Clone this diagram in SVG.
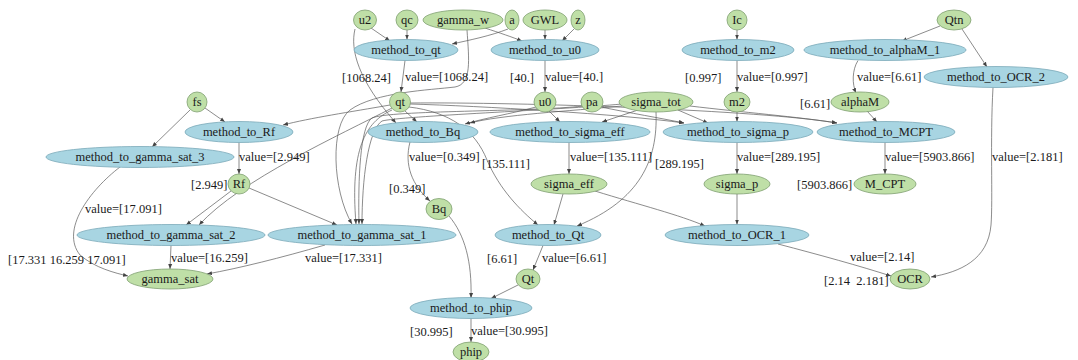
<svg xmlns="http://www.w3.org/2000/svg" width="1078" height="360" viewBox="0 0 1078 360">
<style>
text{font-family:"Liberation Serif","Times New Roman",serif;font-size:12.5px;fill:#1a1a1a}
.n text{text-anchor:middle}
.d ellipse{fill:#bfdfa7;stroke:#7f9f70;stroke-width:0.8}
.m ellipse{fill:#a8d5e2;stroke:#7ba9b9;stroke-width:0.8}
#edges path{fill:none;stroke:#5a5a5a;stroke-width:0.7;marker-end:url(#ah)}
</style>
<defs>
<marker id="ah" viewBox="0 0 10 10" refX="10" refY="5" markerWidth="5" markerHeight="5" markerUnits="userSpaceOnUse" orient="auto">
<path d="M0,1 L10,5 L0,9 z" fill="#444"/>
</marker>
</defs>
<rect width="1078" height="360" fill="#ffffff"/>
<g id="edges">
<path d="M371,28 L390,41"/>
<path d="M407,30 L407,39.5"/>
<path d="M508,29 C490,36 470,40 452,44"/>
<path d="M485,28 C500,33 512,37 522,41"/>
<path d="M545,30 L545,39.5"/>
<path d="M574,29 L562,41"/>
<path d="M405,60.5 L401,92"/>
<path d="M545,60.5 L545,92"/>
<path d="M355,29 C350,50 358,80 396,123"/>
<path d="M467,30 C469,60 472,84 455,87 C430,90 375,92 350,110 C330,125 332,190 352,224"/>
<path d="M405,111 L417,122"/>
<path d="M390,105 C350,112 310,118 283,125"/>
<path d="M392,108 C340,135 240,180 199,225"/>
<path d="M392,110 C365,122 350,150 356,224"/>
<path d="M583,106 C530,112 390,110 372,118 C360,126 358,180 359,224"/>
<path d="M622,104 C560,110 400,116 382,121 C368,130 362,180 362,224"/>
<path d="M536,107 C510,114 485,118 465,124"/>
<path d="M622,106 C570,111 500,115 470,123"/>
<path d="M549,111 L560,122"/>
<path d="M638,110 L602,122"/>
<path d="M409,107 C450,112 475,130 487,160 C500,190 520,210 538,225"/>
<path d="M563,194 L554,225"/>
<path d="M656,112 C658,160 640,200 577,226"/>
<path d="M569,142.5 L569,174"/>
<path d="M595,191 C640,205 680,215 705,226"/>
<path d="M601,107 C630,113 660,118 684,123"/>
<path d="M678,110 L708,123"/>
<path d="M737,112 L737,121.5"/>
<path d="M410,104 C480,106 620,114 684,123"/>
<path d="M410,103 C520,102 760,110 837,123"/>
<path d="M690,106 C740,112 800,117 837,123"/>
<path d="M867,111 L877,122"/>
<path d="M737,142.5 L737,174"/>
<path d="M737,194 L737,224.5"/>
<path d="M778,244 C820,255 860,266 891,276"/>
<path d="M993,87.5 C990,140 993,200 991,225 C988,260 960,272 931,277"/>
<path d="M737,30 L737,39.5"/>
<path d="M737,60.5 L737,92"/>
<path d="M940,26 L902,41"/>
<path d="M962,29 L987,67"/>
<path d="M858,60.5 C852,70 852,84 856,93"/>
<path d="M885,142.5 L885,174"/>
<path d="M205,108 L225,122"/>
<path d="M190,110 L152,147"/>
<path d="M239,142.5 L239,174"/>
<path d="M120,167 C90,190 60,230 80,255 C95,268 115,273 128,276"/>
<path d="M231,191 L186,225"/>
<path d="M249,188 L337,225"/>
<path d="M171,245.5 L170,269"/>
<path d="M325,245 C280,258 240,268 207,274"/>
<path d="M410,142 C404,165 412,185 430,201"/>
<path d="M543,245.5 L533,270"/>
<path d="M449,216 C465,235 472,262 471,298"/>
<path d="M518,285 L491,298.5"/>
<path d="M471,318.5 L471,342"/>
</g>
<g id="edge-labels">
<text x="405" y="81">value=[1068.24]</text>
<text x="342" y="82">[1068.24]</text>
<text x="510" y="82">[40.]</text>
<text x="545" y="81">value=[40.]</text>
<text x="685" y="82">[0.997]</text>
<text x="737" y="81">value=[0.997]</text>
<text x="857" y="81">value=[6.61]</text>
<text x="800" y="108">[6.61]</text>
<text x="409" y="161">value=[0.349]</text>
<text x="482" y="168">[135.111]</text>
<text x="570" y="161">value=[135.111]</text>
<text x="655" y="168">[289.195]</text>
<text x="737" y="161">value=[289.195]</text>
<text x="885" y="161">value=[5903.866]</text>
<text x="992" y="161">value=[2.181]</text>
<text x="239" y="161">value=[2.949]</text>
<text x="191" y="189">[2.949]</text>
<text x="797" y="189">[5903.866]</text>
<text x="389" y="193">[0.349]</text>
<text x="85" y="213">value=[17.091]</text>
<text x="8" y="264">[17.331 16.259 17.091]</text>
<text x="171" y="262">value=[16.259]</text>
<text x="305" y="262">value=[17.331]</text>
<text x="487" y="263">[6.61]</text>
<text x="542" y="262">value=[6.61]</text>
<text x="850" y="261">value=[2.14]</text>
<text x="824" y="285" xml:space="preserve">[2.14  2.181]</text>
<text x="410" y="336">[30.995]</text>
<text x="471" y="335">value=[30.995]</text>
</g>
<g class="n d" id="u2"><ellipse cx="365" cy="20" rx="11.5" ry="10"/><text x="365" y="24">u2</text></g>
<g class="n d" id="qc"><ellipse cx="407" cy="20" rx="11" ry="10"/><text x="407" y="24">qc</text></g>
<g class="n d" id="gamma_w"><ellipse cx="463" cy="20" rx="40" ry="10"/><text x="463" y="24">gamma_w</text></g>
<g class="n d" id="a"><ellipse cx="512" cy="20" rx="7" ry="10"/><text x="512" y="24">a</text></g>
<g class="n d" id="GWL"><ellipse cx="545" cy="20" rx="22" ry="10"/><text x="545" y="24">GWL</text></g>
<g class="n d" id="z"><ellipse cx="578" cy="20" rx="7" ry="10"/><text x="578" y="24">z</text></g>
<g class="n d" id="Ic"><ellipse cx="737" cy="20" rx="10" ry="10"/><text x="737" y="24">Ic</text></g>
<g class="n d" id="Qtn"><ellipse cx="954" cy="20" rx="17" ry="10"/><text x="954" y="24">Qtn</text></g>
<g class="n m" id="method_to_qt"><ellipse cx="406" cy="50" rx="52" ry="10.5"/><text x="406" y="54">method_to_qt</text></g>
<g class="n m" id="method_to_u0"><ellipse cx="545" cy="50" rx="54" ry="10.5"/><text x="545" y="54">method_to_u0</text></g>
<g class="n m" id="method_to_m2"><ellipse cx="738" cy="50" rx="56" ry="10.5"/><text x="738" y="54">method_to_m2</text></g>
<g class="n m" id="method_to_alphaM_1"><ellipse cx="885" cy="50" rx="81" ry="10.5"/><text x="885" y="54">method_to_alphaM_1</text></g>
<g class="n m" id="method_to_OCR_2"><ellipse cx="996" cy="77" rx="72" ry="10.5"/><text x="996" y="81">method_to_OCR_2</text></g>
<g class="n d" id="fs"><ellipse cx="197" cy="102" rx="10" ry="10"/><text x="197" y="106">fs</text></g>
<g class="n d" id="qt"><ellipse cx="400" cy="102" rx="10.5" ry="10"/><text x="400" y="106">qt</text></g>
<g class="n d" id="u0"><ellipse cx="545" cy="102" rx="11" ry="10"/><text x="545" y="106">u0</text></g>
<g class="n d" id="pa"><ellipse cx="592" cy="102" rx="11" ry="10"/><text x="592" y="106">pa</text></g>
<g class="n d" id="sigma_tot"><ellipse cx="656" cy="102" rx="37" ry="10"/><text x="656" y="106">sigma_tot</text></g>
<g class="n d" id="m2"><ellipse cx="737" cy="102" rx="13" ry="10"/><text x="737" y="106">m2</text></g>
<g class="n d" id="alphaM"><ellipse cx="860" cy="102" rx="29" ry="10"/><text x="860" y="106">alphaM</text></g>
<g class="n m" id="method_to_Rf"><ellipse cx="239" cy="132" rx="54" ry="10.5"/><text x="239" y="136">method_to_Rf</text></g>
<g class="n m" id="method_to_Bq"><ellipse cx="423" cy="132" rx="55" ry="10.5"/><text x="423" y="136">method_to_Bq</text></g>
<g class="n m" id="method_to_sigma_eff"><ellipse cx="570" cy="132" rx="80" ry="10.5"/><text x="570" y="136">method_to_sigma_eff</text></g>
<g class="n m" id="method_to_sigma_p"><ellipse cx="738" cy="132" rx="75" ry="10.5"/><text x="738" y="136">method_to_sigma_p</text></g>
<g class="n m" id="method_to_MCPT"><ellipse cx="886" cy="132" rx="69" ry="10.5"/><text x="886" y="136">method_to_MCPT</text></g>
<g class="n m" id="method_to_gamma_sat_3"><ellipse cx="140" cy="157" rx="94" ry="10.5"/><text x="140" y="161">method_to_gamma_sat_3</text></g>
<g class="n d" id="Rf"><ellipse cx="239" cy="184" rx="11" ry="10"/><text x="239" y="188">Rf</text></g>
<g class="n d" id="sigma_eff"><ellipse cx="569" cy="184" rx="38" ry="10"/><text x="569" y="188">sigma_eff</text></g>
<g class="n d" id="sigma_p"><ellipse cx="737" cy="184" rx="33" ry="10"/><text x="737" y="188">sigma_p</text></g>
<g class="n d" id="M_CPT"><ellipse cx="885" cy="184" rx="31" ry="10"/><text x="885" y="188">M_CPT</text></g>
<g class="n d" id="Bq"><ellipse cx="439" cy="209" rx="13" ry="10.5"/><text x="439" y="213">Bq</text></g>
<g class="n m" id="method_to_gamma_sat_2"><ellipse cx="171" cy="235" rx="94" ry="10.5"/><text x="171" y="239">method_to_gamma_sat_2</text></g>
<g class="n m" id="method_to_gamma_sat_1"><ellipse cx="362" cy="235" rx="94" ry="10.5"/><text x="362" y="239">method_to_gamma_sat_1</text></g>
<g class="n m" id="method_to_Qt"><ellipse cx="548" cy="235" rx="53" ry="10.5"/><text x="548" y="239">method_to_Qt</text></g>
<g class="n m" id="method_to_OCR_1"><ellipse cx="737" cy="235" rx="72" ry="10.5"/><text x="737" y="239">method_to_OCR_1</text></g>
<g class="n d" id="gamma_sat"><ellipse cx="170" cy="279" rx="43" ry="10"/><text x="170" y="283">gamma_sat</text></g>
<g class="n d" id="Qt"><ellipse cx="528" cy="279" rx="12" ry="10"/><text x="528" y="283">Qt</text></g>
<g class="n d" id="OCR"><ellipse cx="910" cy="279" rx="20" ry="10"/><text x="910" y="283">OCR</text></g>
<g class="n m" id="method_to_phip"><ellipse cx="471" cy="308" rx="61" ry="10.5"/><text x="471" y="312">method_to_phip</text></g>
<g class="n d" id="phip"><ellipse cx="471" cy="352" rx="18" ry="10"/><text x="471" y="356">phip</text></g>
</svg>
